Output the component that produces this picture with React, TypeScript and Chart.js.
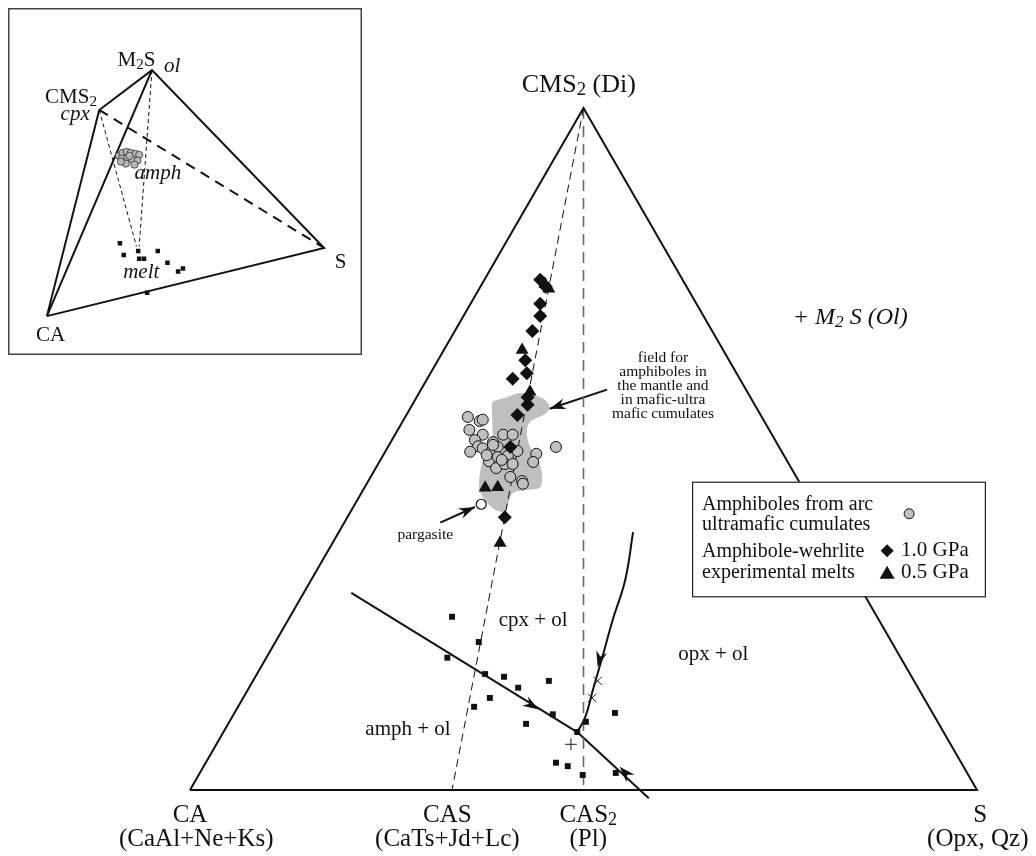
import React, { useEffect, useRef } from "react";
import { Chart, registerables } from "chart.js";
Chart.register(...registerables);

type P = [number, number];

// ---------- Main ternary: x = 0 (CA) .. 100 (S) along the base, y = 0 (base) .. 100 (CMS2 apex)
const triangleOutline: P[] = [[0, 0], [100, 0], [50, 100], [0, 0]];
const joinCAS: P[] = [[50, 100], [33.3, 0]];
const joinCAS2: P[] = [[50, 100], [50, 0]];

const amphCumulates: P[] = [
  [35.3, 54.7], [36.8, 54.1], [37.2, 54.3], [35.5, 52.8], [37.2, 52.1], [36.2, 51.3],
  [38.5, 51.0], [39.8, 52.1], [41.0, 52.1], [36.6, 50.4], [37.2, 50.1], [35.6, 49.6],
  [38.4, 49.9], [39.1, 50.3], [41.6, 49.7], [46.5, 50.3], [44.0, 49.3], [43.6, 48.1],
  [38.0, 48.2], [39.1, 48.8], [40.4, 49.0], [38.9, 47.2], [40.0, 47.8], [41.0, 47.8],
  [40.7, 45.9], [42.2, 45.3], [42.3, 44.9], [38.5, 50.6], [39.6, 48.4], [37.7, 49.1],
];
const melts10GPa: P[] = [
  [44.5, 74.8], [45.2, 73.8], [44.5, 71.3], [44.5, 69.5], [43.5, 67.3], [42.6, 63.0],
  [42.8, 61.1], [41.0, 60.3], [42.9, 57.6], [42.9, 56.5], [41.6, 55.0], [40.7, 50.3], [40.0, 40.0],
];
const melts05GPa: P[] = [
  [45.1, 74.2], [45.6, 73.5], [42.2, 64.5], [43.2, 58.4], [37.5, 44.3], [39.1, 44.4], [39.4, 36.2],
];
const pargasite: P[] = [[37.0, 41.9]];
const meltSquares: P[] = [
  [33.3, 25.4], [36.7, 21.7], [32.7, 19.4], [37.5, 17.0], [39.9, 16.6], [41.7, 15.0],
  [45.6, 16.0], [38.1, 13.5], [36.1, 12.2], [46.1, 11.1], [42.7, 9.7], [49.2, 8.5],
  [50.3, 10.0], [54.0, 11.3], [46.5, 4.0], [48.0, 3.5], [49.9, 2.2], [54.1, 2.5],
];
const crossMarks: P[] = [[51.8, 16.0], [51.1, 13.5]];
const plusMarks: P[] = [[48.4, 6.7]];
const amphField: P[] = [
  [38.4, 56.7], [39.0, 57.2], [40.3, 57.6], [41.9, 58.2], [43.6, 57.9], [45.1, 57.2],
  [45.7, 56.0], [44.9, 55.0], [43.2, 54.0], [42.8, 52.3], [43.2, 50.3], [44.1, 48.8],
  [44.7, 46.5], [44.5, 44.4], [42.8, 44.0], [41.0, 43.5], [40.3, 41.5], [39.8, 40.8],
  [38.5, 41.3], [36.8, 44.0], [37.2, 48.4], [38.4, 50.3], [38.4, 54.3],
];
const cotecticUpper: P[] = [[20.5, 28.9], [49.2, 8.5]];
const cotecticLower: P[] = [[49.2, 8.5], [58.3, -1.2]];
const opxBoundary: P[] = [[56.3, 37.8], [55.3, 30.8], [53.7, 24.9], [52.3, 19.1], [51.2, 14.7], [50.2, 10.6], [49.2, 8.5]];
const fieldArrow: P[] = [[53.0, 58.7], [45.7, 55.9]];
const pargasiteArrow: P[] = [[31.8, 39.2], [36.2, 41.5]];
// arrowheads: [tip, a point behind the tip on the same line]
const arrowHeads: [P, P][] = [
  [[44.3, 11.8], [20.5, 28.9]],
  [[51.8, 18.0], [52.6, 21.6]],
  [[54.6, 3.4], [58.3, -1.2]],
  [[45.7, 55.9], [53.0, 58.7]],
  [[36.2, 41.5], [31.8, 39.2]],
];

// ---------- Inset tetrahedron (x, y in 0..100 of the inset box)
const insetCA: P = [9.9, 10.1];
const insetCMS2: P = [25.1, 71.2];
const insetM2S: P = [40.4, 83.0];
const insetS: P = [90.4, 30.3];
const insetMeltApex1: P = [35.9, 30.8];
const insetMeltApex2: P = [36.7, 30.8];
const insetAmph: P[] = [
  [30.8, 57.6], [31.9, 58.5], [33.1, 58.8], [34.2, 58.5], [35.6, 58.2], [36.7, 57.9],
  [31.6, 56.8], [33.3, 57.1], [34.7, 56.5], [36.2, 56.2], [32.8, 55.3], [31.4, 55.9],
  [35.3, 55.0], [33.9, 57.6],
];
const insetMelts: P[] = [
  [31.1, 31.7], [36.4, 29.4], [42.1, 29.4], [32.2, 28.2], [36.7, 27.1], [38.1, 27.1],
  [44.9, 25.9], [48.0, 23.3], [49.4, 24.2], [39.0, 17.0],
];

const SERIF = '"Liberation Serif", "Times New Roman", serif';
const xy = (a: P[]) => a.map(([x, y]) => ({ x, y }));

type Part = [string, boolean?];
function drawRich(ctx: CanvasRenderingContext2D, parts: Part[], x: number, y: number, size: number, align: string, italic = false) {
  const f = (s: number) => `${italic ? "italic " : ""}${s}px ${SERIF}`;
  let total = 0;
  for (const [t, sub] of parts) { ctx.font = f(sub ? size * 0.72 : size); total += ctx.measureText(t).width; }
  let cx = align === "center" ? x - total / 2 : align === "right" ? x - total : x;
  ctx.textAlign = "left";
  ctx.textBaseline = "middle";
  ctx.fillStyle = "#111";
  for (const [t, sub] of parts) {
    const s = sub ? size * 0.72 : size;
    ctx.font = f(s);
    ctx.fillText(t, cx, sub ? y + size * 0.2 : y);
    cx += ctx.measureText(t).width;
  }
}

function closedSpline(ctx: CanvasRenderingContext2D, pts: number[][]) {
  const n = pts.length;
  ctx.moveTo(pts[0][0], pts[0][1]);
  for (let i = 0; i < n; i++) {
    const p0 = pts[(i - 1 + n) % n], p1 = pts[i], p2 = pts[(i + 1) % n], p3 = pts[(i + 2) % n];
    ctx.bezierCurveTo(
      p1[0] + (p2[0] - p0[0]) / 6, p1[1] + (p2[1] - p0[1]) / 6,
      p2[0] - (p3[0] - p1[0]) / 6, p2[1] - (p3[1] - p1[1]) / 6,
      p2[0], p2[1]);
  }
  ctx.closePath();
}

function lineDs(data: P[], extra: any = {}) {
  return {
    type: "line", data: xy(data), borderColor: "#111", borderWidth: 2, pointRadius: 0,
    fill: false, tension: 0, clip: false, order: 20, ...extra,
  };
}

const mainPlugin = {
  id: "mainDecor",
  beforeDatasetsDraw(chart: any) {
    const { ctx, scales } = chart;
    const X = (v: number) => scales.x.getPixelForValue(v);
    const Y = (v: number) => scales.y.getPixelForValue(v);
    ctx.save();
    ctx.beginPath();
    closedSpline(ctx, amphField.map(([a, b]) => [X(a), Y(b)]));
    ctx.fillStyle = "#bfbfbf";
    ctx.fill();
    ctx.restore();
  },
  afterDatasetsDraw(chart: any) {
    const { ctx, scales } = chart;
    const X = (v: number) => scales.x.getPixelForValue(v);
    const Y = (v: number) => scales.y.getPixelForValue(v);
    ctx.save();
    // arrowheads
    for (const [tip, from] of arrowHeads) {
      const tx = X(tip[0]), ty = Y(tip[1]);
      const fx = X(from[0]), fy = Y(from[1]);
      const d = Math.hypot(tx - fx, ty - fy);
      const ux = (tx - fx) / d, uy = (ty - fy) / d;
      const nx = -uy, ny = ux;
      const L = 16, W = 5.5;
      ctx.beginPath();
      ctx.moveTo(tx, ty);
      ctx.lineTo(tx - ux * L + nx * W, ty - uy * L + ny * W);
      ctx.lineTo(tx - ux * (L - 5), ty - uy * (L - 5));
      ctx.lineTo(tx - ux * L - nx * W, ty - uy * L - ny * W);
      ctx.closePath();
      ctx.fillStyle = "#111";
      ctx.fill();
    }
    // legend box
    const bx0 = X(63.8), bx1 = X(101.0), by0 = Y(45.2), by1 = Y(28.4);
    ctx.fillStyle = "#fff";
    ctx.fillRect(bx0, by0, bx1 - bx0, by1 - by0);
    ctx.strokeStyle = "#222";
    ctx.lineWidth = 1.2;
    ctx.strokeRect(bx0 + 0.5, by0 + 0.5, bx1 - bx0, by1 - by0);
    const lx = bx0 + 10;
    const LF = 20;
    drawRich(ctx, [["Amphiboles from arc"]], lx, by0 + 23, LF, "left");
    drawRich(ctx, [["ultramafic cumulates"]], lx, by0 + 43, LF, "left");
    drawRich(ctx, [["Amphibole-wehrlite"]], lx, by0 + 70, LF, "left");
    drawRich(ctx, [["experimental melts"]], lx, by0 + 91, LF, "left");
    // legend symbols
    ctx.fillStyle = "#c0c0c0"; ctx.strokeStyle = "#111"; ctx.lineWidth = 1;
    ctx.beginPath(); ctx.arc(bx0 + 217, by0 + 32, 5, 0, Math.PI * 2); ctx.fill(); ctx.stroke();
    ctx.fillStyle = "#111";
    const dx = bx0 + 195, dy = by0 + 69;
    ctx.beginPath(); ctx.moveTo(dx, dy - 6.5); ctx.lineTo(dx + 6.5, dy); ctx.lineTo(dx, dy + 6.5); ctx.lineTo(dx - 6.5, dy); ctx.closePath(); ctx.fill();
    const tx2 = bx0 + 195, ty2 = by0 + 91;
    ctx.beginPath(); ctx.moveTo(tx2, ty2 - 7); ctx.lineTo(tx2 + 7.5, ty2 + 6); ctx.lineTo(tx2 - 7.5, ty2 + 6); ctx.closePath(); ctx.fill();
    drawRich(ctx, [["1.0 GPa"]], bx0 + 209, dy, 21, "left");
    drawRich(ctx, [["0.5 GPa"]], bx0 + 209, ty2, 21, "left");

    // labels
    drawRich(ctx, [["CMS"], ["2", true], [" (Di)"]], X(49.4), Y(103.4), 26, "center");
    drawRich(ctx, [["+ M"], ["2", true], [" S (Ol)"]], X(76.6), Y(69.2), 24, "left", true);
    const fieldLines = ["field for", "amphiboles in", "the mantle and", "in mafic-ultra", "mafic cumulates"];
    fieldLines.forEach((t, i) => drawRich(ctx, [[t]], X(60.1), Y(63.3) + i * 14, 15.5, "center"));
    drawRich(ctx, [["pargasite"]], X(29.9), Y(37.4), 15.5, "center");
    drawRich(ctx, [["cpx + ol"]], X(43.6), Y(24.9), 21, "center");
    drawRich(ctx, [["amph + ol"]], X(27.7), Y(8.8), 21, "center");
    drawRich(ctx, [["opx + ol"]], X(66.5), Y(19.8), 21, "center");
    drawRich(ctx, [["CA"]], X(0), Y(-3.67), 25, "center");
    drawRich(ctx, [["(CaAl+Ne+Ks)"]], X(0.8), Y(-7.18), 25, "center");
    drawRich(ctx, [["CAS"]], X(32.7), Y(-3.67), 25, "center");
    drawRich(ctx, [["(CaTs+Jd+Lc)"]], X(32.7), Y(-7.18), 25, "center");
    drawRich(ctx, [["CAS"], ["2", true]], X(50.6), Y(-3.67), 25, "center");
    drawRich(ctx, [["(Pl)"]], X(50.6), Y(-7.18), 25, "center");
    drawRich(ctx, [["S"]], X(100.4), Y(-3.67), 25, "center");
    drawRich(ctx, [["(Opx, Qz)"]], X(100.1), Y(-7.18), 25, "center");
    ctx.restore();
  },
};

const insetPlugin = {
  id: "insetDecor",
  afterDatasetsDraw(chart: any) {
    const { ctx, scales, width, height } = chart;
    const X = (v: number) => scales.x.getPixelForValue(v);
    const Y = (v: number) => scales.y.getPixelForValue(v);
    ctx.save();
    ctx.strokeStyle = "#444";
    ctx.lineWidth = 1.5;
    ctx.strokeRect(0.75, 0.75, width - 1.5, height - 1.5);
    drawRich(ctx, [["M"], ["2", true], ["S"]], X(35.9), Y(85.9), 21, "center");
    drawRich(ctx, [["ol"]], X(46.3), Y(84.1), 21, "center", true);
    drawRich(ctx, [["CMS"], ["2", true]], X(16.9), Y(74.9), 21, "center");
    drawRich(ctx, [["cpx"]], X(18.1), Y(70.0), 21, "center", true);
    drawRich(ctx, [["amph"]], X(42.1), Y(52.4), 21, "center", true);
    drawRich(ctx, [["melt"]], X(37.3), Y(23.1), 21, "center", true);
    drawRich(ctx, [["S"]], X(95.2), Y(25.9), 21, "center");
    drawRich(ctx, [["CA"]], X(11.0), Y(4.3), 21, "center");
    ctx.restore();
  },
};

function MainChart() {
  const ref = useRef<HTMLCanvasElement>(null);
  useEffect(() => {
    const chart = new Chart(ref.current as HTMLCanvasElement, {
      type: "scatter",
      data: {
        datasets: [
          { label: "pargasite", data: xy(pargasite), pointStyle: "circle", pointRadius: 5, backgroundColor: "#fff", borderColor: "#111", borderWidth: 1.2, order: 0, clip: false },
          { label: "0.5 GPa", data: xy(melts05GPa), pointStyle: "triangle", pointRadius: 7.5, backgroundColor: "#111", borderColor: "#111", borderWidth: 0, order: 1, clip: false },
          { label: "1.0 GPa", data: xy(melts10GPa), pointStyle: "rectRot", pointRadius: 7, backgroundColor: "#111", borderColor: "#111", borderWidth: 0, order: 2, clip: false },
          { label: "cumulates", data: xy(amphCumulates), pointStyle: "circle", pointRadius: 5.5, backgroundColor: "#c0c0c0", borderColor: "#111", borderWidth: 1, order: 3, clip: false },
          { label: "melts", data: xy(meltSquares), pointStyle: "rect", pointRadius: 4.2, backgroundColor: "#111", borderColor: "#111", borderWidth: 0, order: 4, clip: false },
          { label: "x", data: xy(crossMarks), pointStyle: "crossRot", pointRadius: 6, backgroundColor: "#111", borderColor: "#222", borderWidth: 1, order: 5, clip: false },
          { label: "+", data: xy(plusMarks), pointStyle: "cross", pointRadius: 6, backgroundColor: "#111", borderColor: "#222", borderWidth: 1, order: 5, clip: false },
          lineDs(triangleOutline, { borderWidth: 2 }),
          lineDs(joinCAS, { borderWidth: 1, borderDash: [8, 5] }),
          lineDs(joinCAS2, { borderWidth: 1.6, borderDash: [11, 7], borderColor: "#6a6a6a" }),
          lineDs(cotecticUpper, { borderWidth: 2 }),
          lineDs(cotecticLower, { borderWidth: 2 }),
          lineDs(opxBoundary, { borderWidth: 2, tension: 0.4 }),
          lineDs(fieldArrow, { borderWidth: 2 }),
          lineDs(pargasiteArrow, { borderWidth: 2 }),
        ] as any,
      },
      options: {
        animation: false,
        responsive: false,
        maintainAspectRatio: false,
        events: [],
        layout: { padding: { left: 190, right: 59, top: 108, bottom: 66 } },
        plugins: { legend: { display: false }, tooltip: { enabled: false } },
        scales: {
          x: { type: "linear", min: 0, max: 100, display: false },
          y: { type: "linear", min: 0, max: 100, display: false },
        },
      },
      plugins: [mainPlugin],
    });
    return () => chart.destroy();
  }, []);
  return <canvas ref={ref} width={1036} height={856} style={{ position: "absolute", left: 0, top: 0 }} />;
}

function InsetChart() {
  const ref = useRef<HTMLCanvasElement>(null);
  useEffect(() => {
    const lines = (d: P[], extra: any = {}) => ({
      type: "line", data: xy(d), borderColor: "#111", borderWidth: 2, pointRadius: 0, fill: false, clip: false, order: 10, ...extra,
    });
    const chart = new Chart(ref.current as HTMLCanvasElement, {
      type: "scatter",
      data: {
        datasets: [
          { label: "amph", data: xy(insetAmph), pointStyle: "circle", pointRadius: 3.6, backgroundColor: "#b8b8b8", borderColor: "#333", borderWidth: 0.8, order: 0 },
          { label: "melt", data: xy(insetMelts), pointStyle: "rect", pointRadius: 3.2, backgroundColor: "#111", borderWidth: 0, order: 1 },
          lines([insetCA, insetCMS2, insetM2S, insetS, insetCA]),
          lines([insetM2S, insetCA]),
          lines([insetCMS2, insetS], { borderDash: [10, 7] }),
          lines([insetCMS2, insetMeltApex1], { borderWidth: 1, borderDash: [4, 3] }),
          lines([insetM2S, insetMeltApex2], { borderWidth: 1, borderDash: [4, 3] }),
        ] as any,
      },
      options: {
        animation: false,
        responsive: false,
        maintainAspectRatio: false,
        events: [],
        layout: { padding: 0 },
        plugins: { legend: { display: false }, tooltip: { enabled: false } },
        scales: {
          x: { type: "linear", min: 0, max: 100, display: false },
          y: { type: "linear", min: 0, max: 100, display: false },
        },
      },
      plugins: [insetPlugin],
    });
    return () => chart.destroy();
  }, []);
  return <canvas ref={ref} width={354} height={347} style={{ position: "absolute", left: 8, top: 8 }} />;
}

export default function App() {
  return (
    <div style={{ position: "absolute", left: 0, top: 0, width: 1036, height: 856, background: "#fff", overflow: "hidden" }}>
      <MainChart />
      <InsetChart />
    </div>
  );
}
